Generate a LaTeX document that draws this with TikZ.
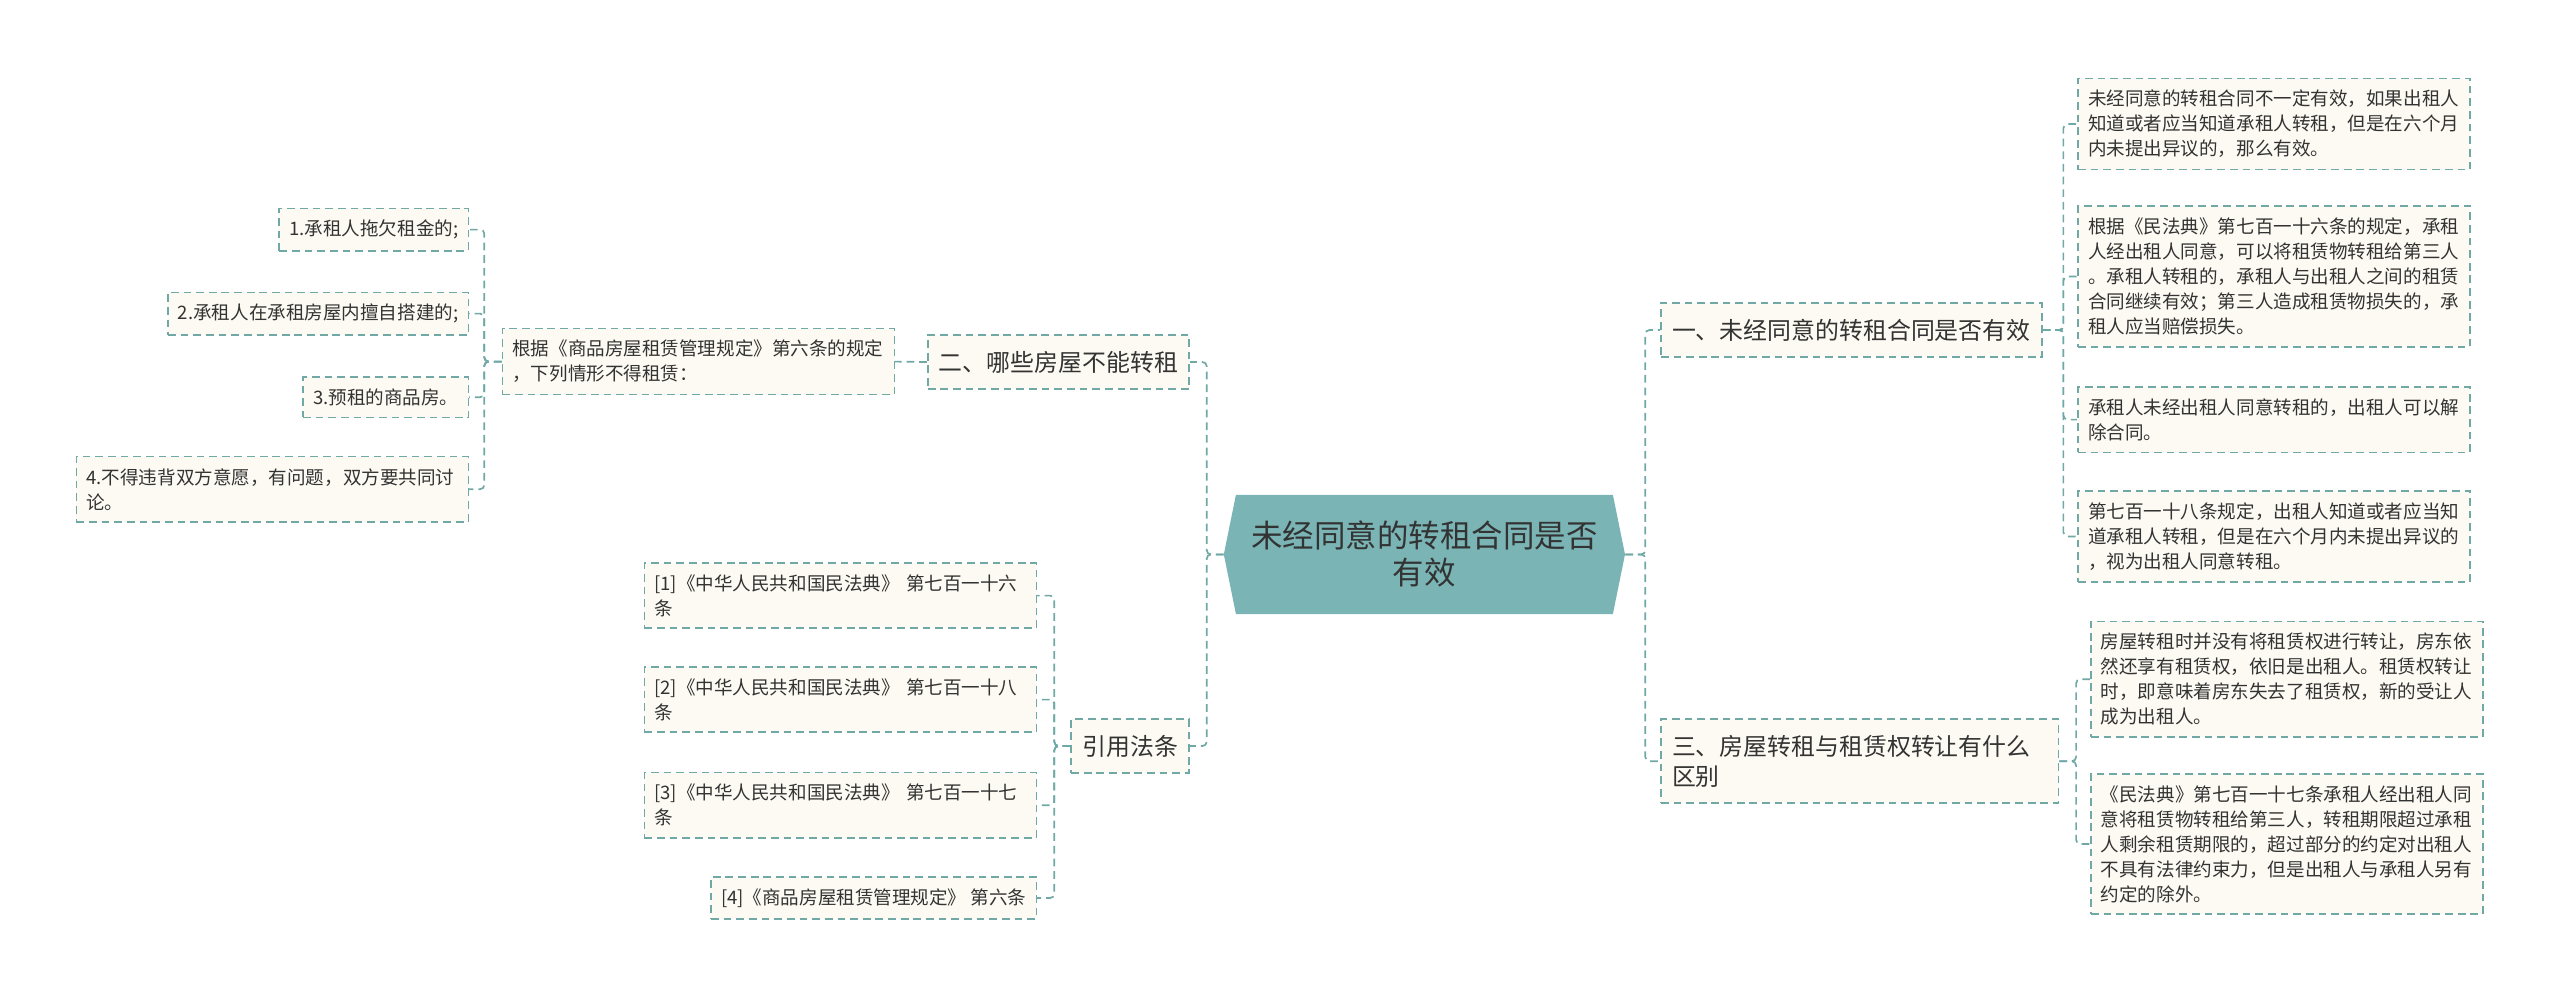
\documentclass[tikz,border=0pt]{standalone}
\usepackage{fontspec}
\setmainfont{Noto Sans CJK SC}
\usepackage{tikz}
\usetikzlibrary{shapes.symbols}
\definecolor{rootfill}{HTML}{7AB4B5}
\definecolor{linecol}{HTML}{6FA8A5}
\definecolor{boxfill}{HTML}{FCFAF2}
\definecolor{txtcol}{HTML}{333333}
\tikzset{
  rootnode/.style={signal, signal to=west and east, signal pointer angle=157, fill=rootfill, text=txtcol, align=center, minimum width=10.03cm, minimum height=2.98cm, inner sep=0pt, font=\fontsize{22.4}{26.3}\selectfont},
  topic/.style={draw=linecol, line width=1.2pt, dash pattern=on 5.5pt off 3.5pt, fill=boxfill, text=txtcol, align=left, inner xsep=0.28cm, inner ysep=0.4cm, font=\fontsize{17}{21.3}\selectfont},
  leaf/.style={draw=linecol, line width=1.2pt, dash pattern=on 5.5pt off 3.5pt, fill=boxfill, text=txtcol, align=left, inner xsep=0.25cm, inner ysep=0.29cm, font=\fontsize{13.2}{17.8}\selectfont},
  wide/.style={leaf, text width=9.3cm},
  link/.style={draw=linecol, line width=1.2pt, dash pattern=on 5.5pt off 3.5pt, rounded corners=3pt}
}
\begin{document}
\begin{tikzpicture}
\useasboundingbox (0,0) rectangle (64,-25.075);
\node [rootnode] (root) at (35.61,-13.86) {未经同意的转租合同是否\\有效};

\node [topic, anchor=west] (t1) at (41.5,-8.25) {一、未经同意的转租合同是否有效};
\node [topic, anchor=west, text width=9.38cm] (t3) at (41.5,-19.03) {三、房屋转租与租赁权转让有什么\\区别};
\node [topic, anchor=east] (t2) at (29.75,-9.05) {二、哪些房屋不能转租};
\node [topic, anchor=east] (t4) at (29.75,-18.65) {引用法条};

\node [wide, anchor=west] (a1) at (51.93,-3.1) {未经同意的转租合同不一定有效，如果出租人\\知道或者应当知道承租人转租，但是在六个月\\内未提出异议的，那么有效。};
\node [wide, anchor=west] (a2) at (51.93,-6.91) {根据《民法典》第七百一十六条的规定，承租\\人经出租人同意，可以将租赁物转租给第三人\\。承租人转租的，承租人与出租人之间的租赁\\合同继续有效；第三人造成租赁物损失的，承\\租人应当赔偿损失。};
\node [wide, anchor=west] (a3) at (51.93,-10.49) {承租人未经出租人同意转租的，出租人可以解\\除合同。};
\node [wide, anchor=west] (a4) at (51.93,-13.41) {第七百一十八条规定，出租人知道或者应当知\\道承租人转租，但是在六个月内未提出异议的\\，视为出租人同意转租。};

\node [wide, anchor=west] (b1) at (52.25,-16.98) {房屋转租时并没有将租赁权进行转让，房东依\\然还享有租赁权，依旧是出租人。租赁权转让\\时，即意味着房东失去了租赁权，新的受让人\\成为出租人。};
\node [wide, anchor=west] (b2) at (52.25,-21.1) {《民法典》第七百一十七条承租人经出租人同\\意将租赁物转租给第三人，转租期限超过承租\\人剩余租赁期限的，超过部分的约定对出租人\\不具有法律约束力，但是出租人与承租人另有\\约定的除外。};

\node [wide, anchor=east] (s1) at (22.38,-9.04) {根据《商品房屋租赁管理规定》第六条的规定\\，下列情形不得租赁：};
\node [leaf, anchor=east] (l1) at (11.73,-5.74) {1.承租人拖欠租金的;};
\node [leaf, anchor=east] (l2) at (11.73,-7.84) {2.承租人在承租房屋内擅自搭建的;};
\node [leaf, anchor=east] (l3) at (11.73,-9.93) {3.预租的商品房。};
\node [wide, anchor=east] (l4) at (11.73,-12.23) {4.不得违背双方意愿，有问题，双方要共同讨\\论。};

\node [wide, anchor=east] (c1) at (25.93,-14.89) {[1]《中华人民共和国民法典》 第七百一十六\\条};
\node [wide, anchor=east] (c2) at (25.93,-17.49) {[2]《中华人民共和国民法典》 第七百一十八\\条};
\node [wide, anchor=east] (c3) at (25.93,-20.13) {[3]《中华人民共和国民法典》 第七百一十七\\条};
\node [leaf, anchor=east] (c4) at (25.93,-22.45) {[4]《商品房屋租赁管理规定》 第六条};

\draw [link] (root.east) -- ++(0.5,0) |- (t1.west);
\draw [link] (root.east) -- ++(0.5,0) |- (t3.west);
\draw [link] (root.west) -- ++(-0.42,0) |- (t2.east);
\draw [link] (root.west) -- ++(-0.42,0) |- (t4.east);

\draw [link] (t1.east) -- ++(0.52,0) |- (a1.west);
\draw [link] (t1.east) -- ++(0.52,0) |- (a2.west);
\draw [link] (t1.east) -- ++(0.52,0) |- (a3.west);
\draw [link] (t1.east) -- ++(0.52,0) |- (a4.west);
\draw [link] (t3.east) -- ++(0.42,0) |- (b1.west);
\draw [link] (t3.east) -- ++(0.42,0) |- (b2.west);

\draw [link] (t2.west) -- (s1.east);
\draw [link] (s1.west) -- ++(-0.43,0) |- (l1.east);
\draw [link] (s1.west) -- ++(-0.43,0) |- (l2.east);
\draw [link] (s1.west) -- ++(-0.43,0) |- (l3.east);
\draw [link] (s1.west) -- ++(-0.43,0) |- (l4.east);

\draw [link] (t4.west) -- ++(-0.4,0) |- (c1.east);
\draw [link] (t4.west) -- ++(-0.4,0) |- (c2.east);
\draw [link] (t4.west) -- ++(-0.4,0) |- (c3.east);
\draw [link] (t4.west) -- ++(-0.4,0) |- (c4.east);
\end{tikzpicture}
\end{document}
